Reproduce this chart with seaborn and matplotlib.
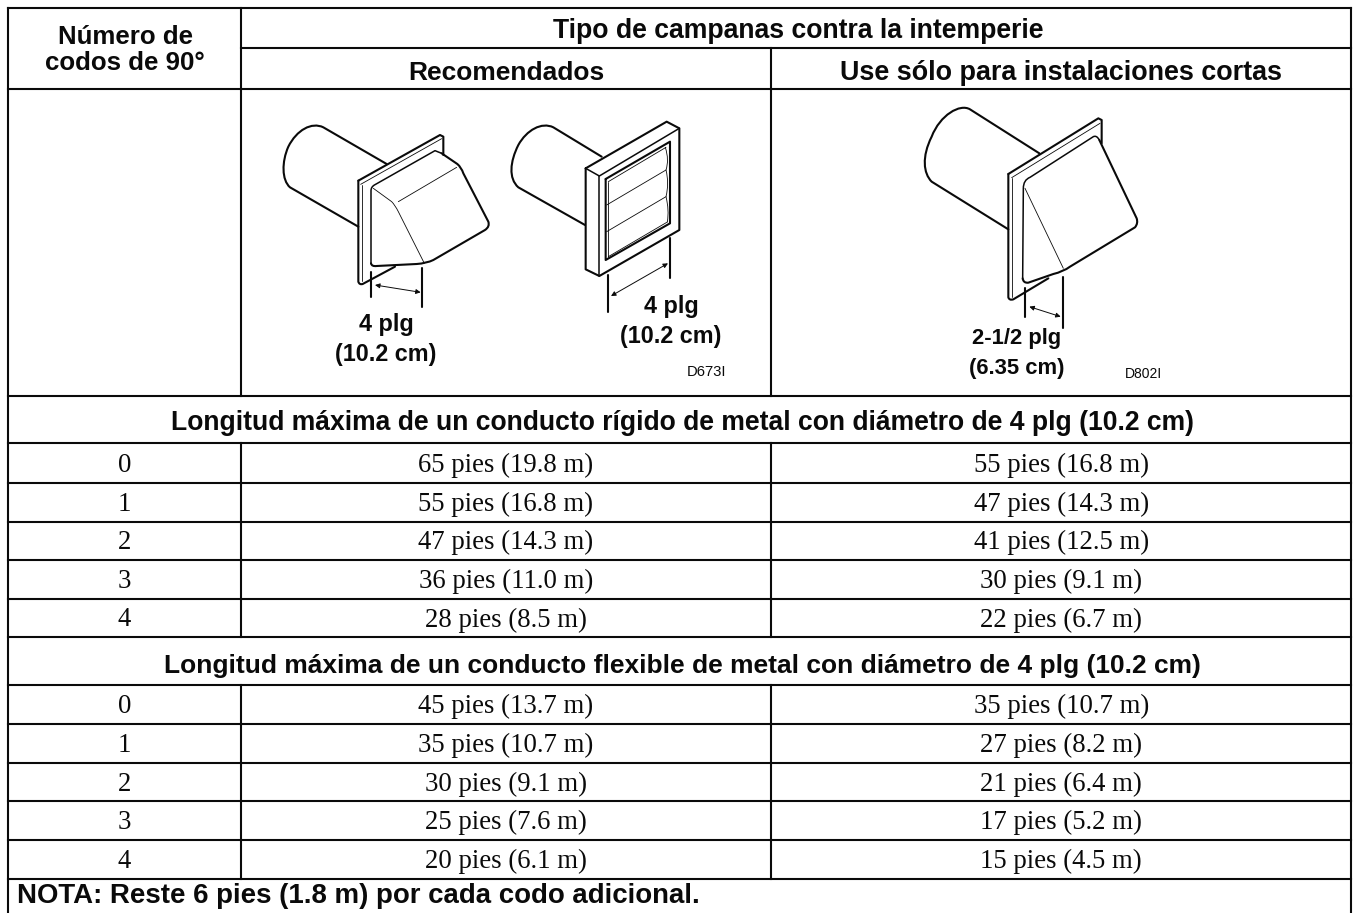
import re
import matplotlib
matplotlib.use("Agg")
import matplotlib.pyplot as plt
from matplotlib.path import Path
from matplotlib.patches import PathPatch, FancyArrowPatch
import seaborn as sns

# ---------- table content ----------
elbows = ["0", "1", "2", "3", "4"]
rigid_recommended = ["65 pies (19.8 m)", "55 pies (16.8 m)", "47 pies (14.3 m)", "36 pies (11.0 m)", "28 pies (8.5 m)"]
rigid_short = ["55 pies (16.8 m)", "47 pies (14.3 m)", "41 pies (12.5 m)", "30 pies (9.1 m)", "22 pies (6.7 m)"]
flex_recommended = ["45 pies (13.7 m)", "35 pies (10.7 m)", "30 pies (9.1 m)", "25 pies (7.6 m)", "20 pies (6.1 m)"]
flex_short = ["35 pies (10.7 m)", "27 pies (8.2 m)", "21 pies (6.4 m)", "17 pies (5.2 m)", "15 pies (4.5 m)"]
head_left = ["Número de", "codos de 90°"]
head_top = "Tipo de campanas contra la intemperie"
head_rec = "Recomendados"
head_short = "Use sólo para instalaciones cortas"
sec_rigid = "Longitud máxima de un conducto rígido de metal con diámetro de 4 plg (10.2 cm)"
sec_flex = "Longitud máxima de un conducto flexible de metal con diámetro de 4 plg (10.2 cm)"
note = "NOTA: Reste 6 pies (1.8 m) por cada codo adicional."

# ---------- layout (pixels) ----------
X0, X1, X2, X3 = 8, 240.8, 771, 1351.3
Y_TOP, Y_MID, Y_HEAD, Y_PIC = 8, 48.5, 89.5, 395.7
Y_SEC1 = 443.4
RIGID_Y = [482.7, 521.6, 560, 599, 637]
Y_SEC2 = 684.7
FLEX_Y = [723.7, 763, 801.3, 839.7, 878.7]
LW = 1.5
INK = "#0a0a0a"

sns.set_theme(style="white")
plt.rcParams["font.family"] = ["Liberation Sans", "DejaVu Sans"]
fig = plt.figure(figsize=(13.53, 9.13), dpi=100, facecolor="white")
ax = fig.add_axes([0, 0, 1, 1])
ax.set_xlim(0, 1353)
ax.set_ylim(913, 0)
ax.axis("off")
sns.despine(ax=ax, left=True, bottom=True)


def hline(y, a=X0, b=X3):
    ax.plot([a, b], [y, y], color=INK, lw=LW, solid_capstyle="projecting")


def vline(x, a, b):
    ax.plot([x, x], [a, b], color=INK, lw=LW, solid_capstyle="projecting")


hline(Y_TOP)
hline(Y_MID, X1, X3)
for y in [Y_HEAD, Y_PIC, Y_SEC1] + RIGID_Y + [Y_SEC2] + FLEX_Y:
    hline(y)
vline(X0, Y_TOP, 913)
vline(X3, Y_TOP, 913)
vline(X1, Y_TOP, Y_PIC)
vline(X2, Y_MID, Y_PIC)
vline(X1, Y_SEC1, RIGID_Y[-1])
vline(X2, Y_SEC1, RIGID_Y[-1])
vline(X1, Y_SEC2, FLEX_Y[-1])
vline(X2, Y_SEC2, FLEX_Y[-1])


def bold(x, y, s, size=19.0, ha="center"):
    ax.text(x, y, s, fontsize=size, fontweight="bold", ha=ha, va="center_baseline", color=INK,
            family=["Liberation Sans", "DejaVu Sans"])


def serif(x, y, s):
    ax.text(x, y, s, fontsize=19.3, ha="center", va="center_baseline", color=INK,
            family=["Liberation Serif", "DejaVu Serif"])


CX0, CX1, CX2 = (X0 + X1) / 2, (X1 + X2) / 2, (X2 + X3) / 2
bold(125, 34.5, head_left[0], size=18.6)
bold(125, 61, head_left[1], size=18.6)
bold(798, 28, head_top, size=19.2)
bold(506, 70, head_rec, size=19.0)
bold(1061, 70, head_short, size=19.4)
bold(682.5, 420, sec_rigid, size=19.1)
bold(682.5, 663, sec_flex, size=19.0)
bold(17, 893, note, size=19.9, ha="left")

for tops, rec, short, labels in [
    ([Y_SEC1] + RIGID_Y[:-1], rigid_recommended, rigid_short, RIGID_Y),
    ([Y_SEC2] + FLEX_Y[:-1], flex_recommended, flex_short, FLEX_Y),
]:
    for top, bot, e, r, s in zip(tops, labels, elbows, rec, short):
        yc = (top + bot) / 2 - 1
        serif(CX0, yc, e)
        serif(CX1, yc, r)
        serif(CX2, yc, s)

# ---------- line illustrations (strokes in 3x crop units) ----------
CODES = {"M": (Path.MOVETO, 1), "L": (Path.LINETO, 1), "Q": (Path.CURVE3, 2), "C": (Path.CURVE4, 3)}


def stroke(ox, oy, d, lw=1.5):
    tok = re.findall(r"[MLQC]|-?\d+\.?\d*", d)
    verts, codes, i = [], [], 0
    while i < len(tok):
        code, n = CODES[tok[i]]
        i += 1
        for _ in range(n):
            verts.append((ox + float(tok[i]) / 3, oy + float(tok[i + 1]) / 3))
            codes.append(code)
            i += 2
    ax.add_patch(PathPatch(Path(verts, codes), fill=False, ec=INK, lw=lw, capstyle="round", joinstyle="round"))


def arrow(ox, oy, x0, y0, x1, y1):
    ax.add_patch(FancyArrowPatch((ox + x0 / 3, oy + y0 / 3), (ox + x1 / 3, oy + y1 / 3), arrowstyle="<|-|>",
                                 mutation_scale=7, lw=0.7, color=INK, shrinkA=0, shrinkB=0))


THICK, MID, THIN = 1.5, 1.1, 0.6
OA = (240, 90)
OC = (770, 90)

# hood A
stroke(*OA, "M440 222 L250 112 C215 95 170 120 145 170 C125 215 125 270 150 292 L355 410", THICK)
stroke(*OA, "M355 272 L600 135 L610 140 L610 195", THICK)
stroke(*OA, "M362 283 L605 146", THIN)
stroke(*OA, "M355 272 L355 575 Q358 585 368 582 L465 530", THICK)
stroke(*OA, "M365 285 L365 572", THIN)
stroke(*OA, "M393 520 L393 302 Q393 290 405 284 L585 182 L605 190", MID)
stroke(*OA, "M605 190 L652 222 Q664 232 670 250 L745 395 Q750 410 735 420 L580 510 Q560 520 530 522 L410 528 Q395 530 393 520", THICK)
stroke(*OA, "M400 295 L455 335 Q465 345 475 365 L553 520", THIN)
stroke(*OA, "M475 335 L650 232", THIN)
stroke(*OA, "M393 545 L393 620", THICK)
stroke(*OA, "M547 535 L547 650", THICK)
arrow(*OA, 405, 585, 542, 607)

# hood B
stroke(*OA, "M1085 200 L940 112 C905 95 860 120 835 165 C810 215 805 265 835 292 L1035 405", THICK)
stroke(*OA, "M1037 235 L1280 95 L1318 115 L1318 420 L1078 558 L1037 538 L1037 235", THICK)
stroke(*OA, "M1037 235 L1078 258 L1318 115", MID)
stroke(*OA, "M1078 258 L1078 558", MID)
stroke(*OA, "M1097 267 L1290 155 L1290 400 L1097 510 L1097 267", THICK)
stroke(*OA, "M1105 275 L1278 172", THIN)
stroke(*OA, "M1100 345 L1278 240", THIN)
stroke(*OA, "M1100 425 L1278 320", THIN)
stroke(*OA, "M1105 500 L1282 396", THIN)
stroke(*OA, "M1105 275 L1105 500", THIN)
stroke(*OA, "M1276 172 Q1288 210 1278 240 Q1288 280 1278 320 Q1288 360 1282 396", THIN)
stroke(*OA, "M1105 555 L1105 665", THICK)
stroke(*OA, "M1290 445 L1290 565", THICK)
arrow(*OA, 1113, 618, 1284, 520)

# hood C
stroke(*OC, "M808 190 L600 58 C570 40 510 75 485 140 C455 200 460 250 485 275 L715 418", THICK)
stroke(*OC, "M715 252 L985 85 L995 90 L995 160", THICK)
stroke(*OC, "M725 263 L990 100", THIN)
stroke(*OC, "M715 252 L715 622 Q718 632 730 628 L835 565", THICK)
stroke(*OC, "M726 263 L726 622", THIN)
stroke(*OC, "M758 565 L760 295 Q760 270 780 262 L970 140 Q980 135 988 150", MID)
stroke(*OC, "M988 150 L1100 385 Q1105 400 1095 412 L900 530 Q880 545 850 552 L775 578 Q760 580 758 565", THICK)
stroke(*OC, "M765 295 L880 535", THIN)
stroke(*OC, "M765 595 L765 680", THICK)
stroke(*OC, "M880 562 L880 715", THICK)
arrow(*OC, 778, 650, 872, 680)

# illustration captions
bold(386, 322.5, "4 plg", size=16.8)
bold(386, 351.5, "(10.2 cm)", size=16.8)
bold(671, 304.5, "4 plg", size=16.8)
bold(671, 334.5, "(10.2 cm)", size=16.8)
bold(1017, 336, "2-1/2 plg", size=15.8)
bold(1017, 366, "(6.35 cm)", size=15.8)
ax.text(706, 371, "D673I", fontsize=10.6, ha="center", va="center_baseline", color=INK)
ax.text(1143, 372, "D802I", fontsize=10, ha="center", va="center_baseline", color=INK)

fig.savefig("out.png", dpi=100, facecolor="white")
